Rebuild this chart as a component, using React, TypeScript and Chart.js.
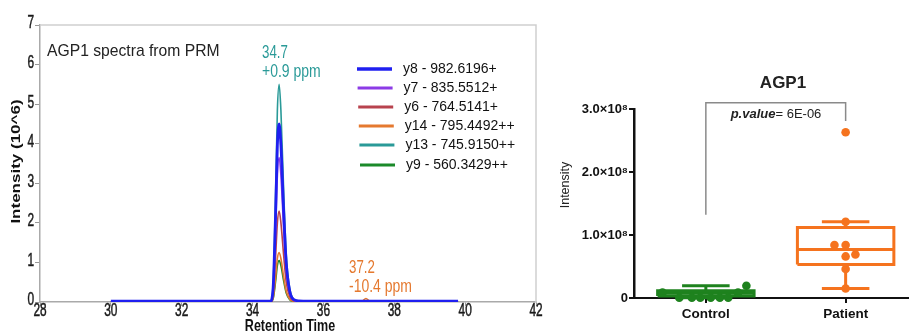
import React, { useEffect, useRef } from 'react';
import { Chart, registerables } from 'chart.js';

Chart.register(...registerables);

// ---------- Left panel: PRM chromatogram ----------
const retentionTimes = [30, 31, 32, 33, 33.7, 34, 34.5, 34.58, 34.65, 34.7, 34.75, 34.8, 34.88, 34.95, 35.05, 35.15, 35.3, 36, 37, 37.1, 37.2, 37.3, 37.4, 38, 39, 39.8];
const y8Intensity = [0.02, 0.02, 0.02, 0.02, 0.02, 0.02, 0.02, 0.36, 2.25, 3.96, 4.5, 3.96, 2.25, 0.99, 0.27, 0.07, 0.03, 0.02, 0.02, 0.02, 0.02, 0.02, 0.02, 0.02, 0.02, 0.02];
const y7Intensity = [0.01, 0.01, 0.01, 0.01, 0.01, 0.01, 0.01, 0.29, 1.8, 3.2, 3.65, 3.2, 1.8, 0.8, 0.22, 0.05, 0.01, 0.01, 0.01, 0.01, 0.01, 0.01, 0.01, 0.01, 0.01, 0.01];
const y6Intensity = [0, 0, 0, 0, 0, 0, 0, 0.18, 1.15, 2.0, 2.3, 2.0, 1.15, 0.5, 0.14, 0.03, 0, 0, 0, 0, 0, 0, 0, 0, 0, 0];
const y14Intensity = [0, 0, 0, 0, 0, 0, 0, 0.1, 0.62, 1.1, 1.25, 1.1, 0.62, 0.27, 0.07, 0.02, 0, 0, 0, 0.02, 0.09, 0.02, 0, 0, 0, 0];
const y13Intensity = [0, 0, 0, 0, 0, 0, 0, 0.44, 2.75, 4.84, 5.5, 4.84, 2.75, 1.21, 0.33, 0.08, 0, 0, 0, 0, 0, 0, 0, 0, 0, 0];
const y9Intensity = [0, 0, 0, 0, 0.03, 0, 0, 0.08, 0.52, 0.92, 1.05, 0.92, 0.52, 0.23, 0.06, 0.015, 0, 0, 0, 0, 0, 0, 0, 0, 0, 0];
const fragmentLabels = ['y8 - 982.6196+', 'y7 - 835.5512+', 'y6 - 764.5141+', 'y14 - 795.4492++', 'y13 - 745.9150++', 'y9 - 560.3429++'];
const fragmentColors = ['#1f1ff0', '#8c3be6', '#b8434e', '#e5792f', '#2a9a98', '#1b8a2a'];
const fragmentSeries = [y8Intensity, y7Intensity, y6Intensity, y14Intensity, y13Intensity, y9Intensity];

// ---------- Right panel: box plot ----------
const groups = ['Control', 'Patient'];
const groupPositions = [1, 2];
const groupColors = ['#1e821e', '#f5731e'];
const boxLow = [0.005e8, 0.15e8];
const boxQ1 = [0.03e8, 0.53e8];
const boxMedian = [0.075e8, 0.77e8];
const boxQ3 = [0.116e8, 1.12e8];
const boxHigh = [0.195e8, 1.21e8];
const controlValues = [0.195e8, 0.085e8, 0.085e8, 0.005e8, 0.005e8, 0.005e8, 0.005e8, 0.005e8, 0.005e8];
const controlJitter = [0.29, -0.31, 0.23, -0.19, -0.1, -0.04, 0.035, 0.1, 0.16];
const patientValues = [2.63e8, 1.21e8, 0.84e8, 0.84e8, 0.69e8, 0.66e8, 0.46e8, 0.15e8];
const patientJitter = [0, 0, -0.08, 0, 0.07, 0, 0, 0];
const bracketHeights = [1.32e8, 3.1e8, 2.81e8];
const intensityTicks = [0, 1e8, 2e8, 3e8];
const intensityTickLabels = ['0', '1.0×10⁸', '2.0×10⁸', '3.0×10⁸'];

const SANS = "'Liberation Sans', Arial, sans-serif";

function condensedText(ctx: any, text: string, x: number, y: number, font: string, color: string, align: string, sx: number, stroke = 0) {
  ctx.save();
  ctx.translate(x, y);
  ctx.scale(sx, 1);
  ctx.font = font;
  ctx.fillStyle = color;
  ctx.textAlign = align;
  ctx.textBaseline = 'middle';
  ctx.fillText(text, 0, 0);
  if (stroke > 0) {
    ctx.strokeStyle = color;
    ctx.lineWidth = stroke;
    ctx.strokeText(text, 0, 0);
  }
  ctx.restore();
}

const leftDecor = {
  id: 'leftDecor',
  afterDraw(chart: any) {
    const { ctx, chartArea } = chart;
    const xs = chart.scales.x;
    const ys = chart.scales.y;
    ctx.save();
    ctx.strokeStyle = '#cfcfcf';
    ctx.lineWidth = 1.5;
    ctx.beginPath();
    ctx.moveTo(chartArea.left, chartArea.top);
    ctx.lineTo(chartArea.right, chartArea.top);
    ctx.lineTo(chartArea.right, chartArea.bottom);
    ctx.stroke();

    // tick labels (condensed, like the source image)
    const tickFont = `18px ${SANS}`;
    xs.ticks.forEach((t: any) => {
      condensedText(ctx, String(t.value), xs.getPixelForValue(t.value), 311.5, tickFont, '#1a1a1a', 'center', 0.66, 0.5);
    });
    ys.ticks.forEach((t: any) => {
      condensedText(ctx, String(t.value), 34, ys.getPixelForValue(t.value) - 1.5, tickFont, '#1a1a1a', 'right', 0.66, 0.5);
    });
    // axis titles
    condensedText(ctx, 'Retention Time', (chartArea.left + chartArea.right) / 2 + 2, 326, `bold 16.5px ${SANS}`, '#111', 'center', 0.76);
    ctx.save();
    ctx.translate(17, (chartArea.top + chartArea.bottom) / 2 - 2);
    ctx.scale(0.72, 1);
    ctx.rotate(-Math.PI / 2);
    ctx.font = `bold 17px ${SANS}`;
    ctx.fillStyle = '#111';
    ctx.textAlign = 'center';
    ctx.textBaseline = 'middle';
    ctx.fillText('Intensity (10^6)', 0, 0);
    ctx.restore();

    ctx.fillStyle = '#222';
    ctx.font = `15.7px ${SANS}`;
    ctx.textBaseline = 'middle';
    ctx.textAlign = 'left';
    ctx.fillText('AGP1 spectra from PRM', 47, 52);

    const annFont = `17.5px ${SANS}`;
    condensedText(ctx, '34.7', 262, 53, annFont, fragmentColors[4], 'left', 0.76);
    condensedText(ctx, '+0.9 ppm', 262, 72, annFont, fragmentColors[4], 'left', 0.8);
    condensedText(ctx, '37.2', 349, 268, annFont, fragmentColors[3], 'left', 0.76);
    condensedText(ctx, '-10.4 ppm', 349, 287, annFont, fragmentColors[3], 'left', 0.8);

    const rows = [69, 88, 107, 126, 145, 165];
    ctx.font = `14px ${SANS}`;
    ctx.textAlign = 'left';
    ctx.textBaseline = 'middle';
    fragmentLabels.forEach((lab, i) => {
      ctx.strokeStyle = fragmentColors[i];
      ctx.lineWidth = i === 0 ? 3.5 : 3;
      ctx.beginPath();
      ctx.moveTo(357 + i * 0.6, rows[i]);
      ctx.lineTo(392 + i * 0.6, rows[i]);
      ctx.stroke();
      ctx.fillStyle = '#111';
      ctx.fillText(lab, 403 + i * 0.6, rows[i]);
    });
    ctx.restore();
  },
};

const rightDecor = {
  id: 'rightDecor',
  afterDraw(chart: any) {
    const { ctx } = chart;
    const ox = 556;
    ctx.save();
    ctx.fillStyle = '#222';
    ctx.textBaseline = 'middle';
    ctx.textAlign = 'center';
    ctx.font = `bold 17px ${SANS}`;
    ctx.fillText('AGP1', 783 - ox, 83);

    ctx.save();
    ctx.translate(566 - ox, 185);
    ctx.rotate(-Math.PI / 2);
    ctx.font = `12.5px ${SANS}`;
    ctx.fillText('Intensity', 0, 0);
    ctx.restore();

    ctx.textAlign = 'left';
    const fa = `italic bold 13px ${SANS}`;
    const fb = `13px ${SANS}`;
    const a = 'p.value';
    const b = '= 6E-06';
    ctx.font = fa;
    const wa = ctx.measureText(a).width;
    ctx.font = fb;
    const wb = ctx.measureText(b).width;
    const start = 776 - ox - (wa + wb) / 2;
    ctx.font = fa;
    ctx.fillText(a, start, 114);
    ctx.font = fb;
    ctx.fillText(b, start + wa, 114);
    ctx.restore();
  },
};

function seg(points: { x: number; y: number }[], color: string, width: number) {
  return {
    type: 'line',
    data: points,
    showLine: true,
    borderColor: color,
    borderWidth: width,
    pointRadius: 0,
    fill: false,
    clip: false,
    tension: 0,
  };
}

export default function App() {
  const leftRef = useRef<HTMLCanvasElement>(null);
  const rightRef = useRef<HTMLCanvasElement>(null);

  useEffect(() => {
    const left = new Chart(leftRef.current as HTMLCanvasElement, {
      type: 'line',
      data: {
        datasets: fragmentSeries.map((s, i) => ({
          label: fragmentLabels[i],
          data: retentionTimes.map((t, j) => ({ x: t, y: s[j] })),
          borderColor: fragmentColors[i],
          borderWidth: i === 0 ? 2.8 : 1.6,
          pointRadius: 0,
          fill: false,
          cubicInterpolationMode: 'monotone',
        })),
      },
      options: {
        animation: false,
        responsive: false,
        maintainAspectRatio: false,
        layout: { padding: { top: 25, right: 20, left: 0, bottom: 0 } },
        plugins: { legend: { display: false }, tooltip: { enabled: false } },
        scales: {
          x: {
            type: 'linear',
            min: 28,
            max: 42,
            ticks: { stepSize: 2, display: false },
            grid: { drawOnChartArea: false, tickLength: 4, color: '#999' },
            border: { color: '#aaa', width: 1.5 },
            afterFit: (s: any) => { s.height = 33; },
          },
          y: {
            min: 0,
            max: 7,
            ticks: { stepSize: 1, display: false },
            grid: { drawOnChartArea: false, tickLength: 5, color: '#999' },
            border: { color: '#aaa', width: 1.5 },
            afterFit: (s: any) => { s.width = 40; },
          },
        },
      } as any,
      plugins: [leftDecor],
    });

    const dotSets = [
      { values: controlValues, jitter: controlJitter, gi: 0 },
      { values: patientValues, jitter: patientJitter, gi: 1 },
    ].map(({ values, jitter, gi }) => ({
      type: 'scatter',
      data: values.map((v, k) => ({ x: groupPositions[gi] + jitter[k], y: v })),
      backgroundColor: groupColors[gi],
      borderWidth: 0,
      pointRadius: 4.3,
      clip: false,
    }));

    const boxHalf = 0.345;
    const capHalf = 0.17;
    const boxSets: any[] = [];
    groupPositions.forEach((p, i) => {
      const c = groupColors[i];
      boxSets.push(seg([
        { x: p - boxHalf, y: boxQ1[i] }, { x: p + boxHalf, y: boxQ1[i] },
        { x: p + boxHalf, y: boxQ3[i] }, { x: p - boxHalf, y: boxQ3[i] },
        { x: p - boxHalf, y: boxQ1[i] },
      ], c, 3));
      boxSets.push(seg([{ x: p - boxHalf, y: boxMedian[i] }, { x: p + boxHalf, y: boxMedian[i] }], c, 3));
      boxSets.push(seg([{ x: p, y: boxQ3[i] }, { x: p, y: boxHigh[i] }], c, 3));
      boxSets.push(seg([{ x: p - capHalf, y: boxHigh[i] }, { x: p + capHalf, y: boxHigh[i] }], c, 3));
      boxSets.push(seg([{ x: p, y: boxQ1[i] }, { x: p, y: boxLow[i] }], c, 3));
      boxSets.push(seg([{ x: p - capHalf, y: boxLow[i] }, { x: p + capHalf, y: boxLow[i] }], c, 3));
    });
    const bracket = seg([
      { x: groupPositions[0], y: bracketHeights[0] },
      { x: groupPositions[0], y: bracketHeights[1] },
      { x: groupPositions[1], y: bracketHeights[1] },
      { x: groupPositions[1], y: bracketHeights[2] },
    ], '#8a8a8a', 1.5);

    const right = new Chart(rightRef.current as HTMLCanvasElement, {
      type: 'scatter',
      data: { datasets: [...dotSets, ...boxSets, bracket] as any },
      options: {
        animation: false,
        responsive: false,
        maintainAspectRatio: false,
        layout: { padding: { top: 109, right: 0, left: 0, bottom: 0 } },
        plugins: { legend: { display: false }, tooltip: { enabled: false } },
        scales: {
          x: {
            type: 'linear',
            min: 0.486,
            max: 2.444,
            afterBuildTicks: (s: any) => { s.ticks = groupPositions.map((v) => ({ value: v })); },
            ticks: {
              callback: (v: any) => groups[groupPositions.indexOf(v)] ?? '',
              font: { family: SANS, size: 13.5, weight: 'bold' },
              color: '#111',
              padding: 3,
              maxRotation: 0,
            },
            grid: { drawOnChartArea: false, tickLength: 5, color: '#111', lineWidth: 2 },
            border: { color: '#111', width: 2 },
            afterFit: (s: any) => { s.height = 37; },
          },
          y: {
            min: 0,
            max: 3e8,
            afterBuildTicks: (s: any) => { s.ticks = intensityTicks.map((v) => ({ value: v })); },
            ticks: {
              callback: (v: any) => intensityTickLabels[intensityTicks.indexOf(v)] ?? '',
              font: { family: SANS, size: 13, weight: 'bold' },
              color: '#111',
              padding: 1,
            },
            grid: { drawOnChartArea: false, tickLength: 5, color: '#111', lineWidth: 2 },
            border: { color: '#111', width: 2.5 },
            afterFit: (s: any) => { s.width = 78; },
          },
        },
      } as any,
      plugins: [rightDecor],
    });

    return () => {
      left.destroy();
      right.destroy();
    };
  }, []);

  return (
    <div style={{ position: 'fixed', left: 0, top: 0, width: 912, height: 335, background: '#fff' }}>
      <canvas ref={leftRef} width={556} height={335} style={{ position: 'absolute', left: 0, top: 0, width: 556, height: 335 }} />
      <canvas ref={rightRef} width={356} height={335} style={{ position: 'absolute', left: 556, top: 0, width: 356, height: 335 }} />
    </div>
  );
}
